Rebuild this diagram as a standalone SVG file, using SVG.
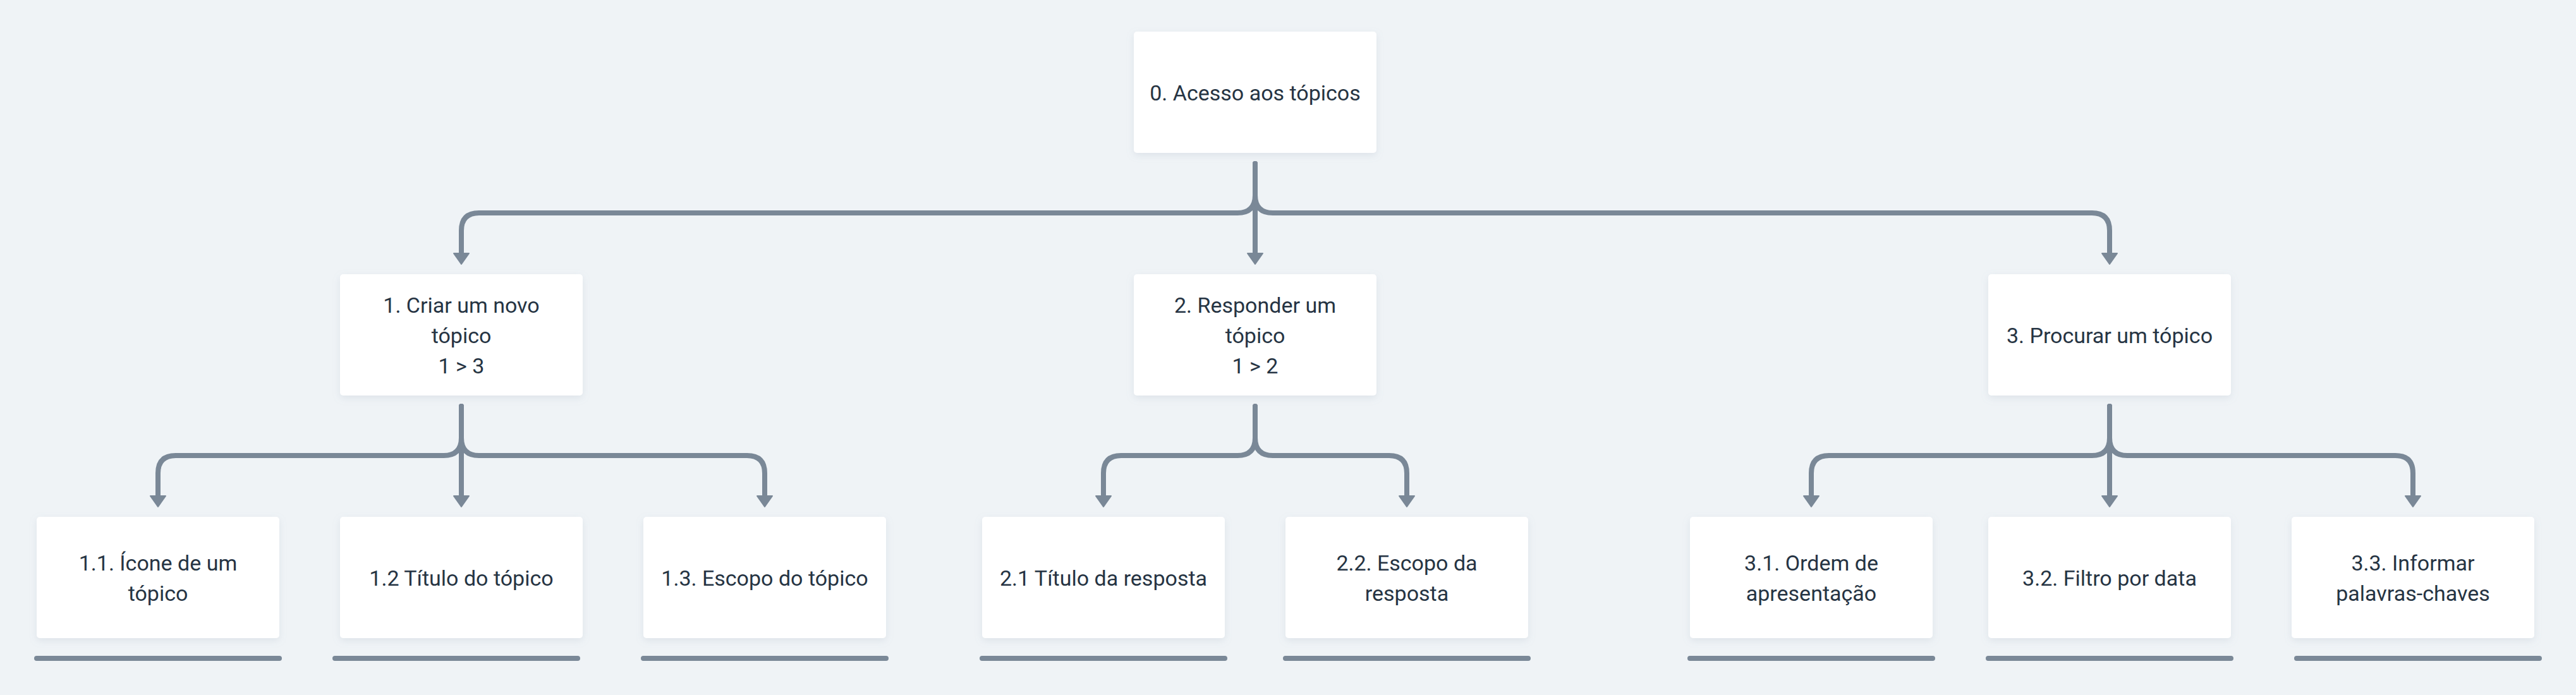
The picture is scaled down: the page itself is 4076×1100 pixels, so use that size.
<svg xmlns="http://www.w3.org/2000/svg" width="4076" height="1100" viewBox="0 0 4076 1100">
<style>
.bg{fill:#eff3f6}
.box{fill:#ffffff;filter:url(#sh)}
.t{font-family:Roboto,"Liberation Sans",sans-serif;font-size:34px;fill:#263443;text-anchor:middle}
.c{fill:none;stroke:#7a8897;stroke-width:8;stroke-linecap:round;stroke-linejoin:round;marker-end:url(#ah)}
.bar{fill:#7a8897}
</style>
<defs>
<filter id="sh" x="-10%" y="-10%" width="120%" height="130%">
<feDropShadow dx="0" dy="4" stdDeviation="6" flood-color="#8a9bb0" flood-opacity="0.18"/>
</filter>
<marker id="ah" markerUnits="userSpaceOnUse" orient="auto" refX="0" refY="0" markerWidth="30" markerHeight="30" overflow="visible">
<path d="M-8,-12 L9,0 L-8,12 Z" fill="#7a8897" stroke="#7a8897" stroke-width="2" stroke-linejoin="round"/>
</marker>
</defs>
<rect class="bg" x="0" y="0" width="4076" height="1100"/>

<g id="connectors">
<path class="c" d="M1986,259 V309 Q1986,337 1958,337 H758 Q730,337 730,365 V409"/>
<path class="c" d="M1986,259 V409"/>
<path class="c" d="M1986,259 V309 Q1986,337 2014,337 H3310 Q3338,337 3338,365 V409"/>

<path class="c" d="M730,643 V693 Q730,721 702,721 H278 Q250,721 250,749 V793"/>
<path class="c" d="M730,643 V793"/>
<path class="c" d="M730,643 V693 Q730,721 758,721 H1182 Q1210,721 1210,749 V793"/>

<path class="c" d="M1986,643 V693 Q1986,721 1958,721 H1774 Q1746,721 1746,749 V793"/>
<path class="c" d="M1986,643 V693 Q1986,721 2014,721 H2198 Q2226,721 2226,749 V793"/>

<path class="c" d="M3338,643 V693 Q3338,721 3310,721 H2894 Q2866,721 2866,749 V793"/>
<path class="c" d="M3338,643 V793"/>
<path class="c" d="M3338,643 V693 Q3338,721 3366,721 H3790 Q3818,721 3818,749 V793"/>
</g>

<g id="node-0">
<rect class="box" x="1794" y="50" width="384" height="192" rx="5"/>
<text class="t" x="1986" y="159">0. Acesso aos tópicos</text>
</g>

<g id="node-1">
<rect class="box" x="538" y="434" width="384" height="192" rx="5"/>
<text class="t" x="730" y="495">1. Criar um novo</text>
<text class="t" x="730" y="543">tópico</text>
<text class="t" x="730" y="591">1 &gt; 3</text>
</g>

<g id="node-2">
<rect class="box" x="1794" y="434" width="384" height="192" rx="5"/>
<text class="t" x="1986" y="495">2. Responder um</text>
<text class="t" x="1986" y="543">tópico</text>
<text class="t" x="1986" y="591">1 &gt; 2</text>
</g>

<g id="node-3">
<rect class="box" x="3146" y="434" width="384" height="192" rx="5"/>
<text class="t" x="3338" y="543">3. Procurar um tópico</text>
</g>

<g id="node-1-1">
<rect class="box" x="58" y="818" width="384" height="192" rx="5"/>
<text class="t" x="250" y="903">1.1. Ícone de um</text>
<text class="t" x="250" y="951">tópico</text>
</g>

<g id="node-1-2">
<rect class="box" x="538" y="818" width="384" height="192" rx="5"/>
<text class="t" x="730" y="927">1.2 Título do tópico</text>
</g>

<g id="node-1-3">
<rect class="box" x="1018" y="818" width="384" height="192" rx="5"/>
<text class="t" x="1210" y="927">1.3. Escopo do tópico</text>
</g>

<g id="node-2-1">
<rect class="box" x="1554" y="818" width="384" height="192" rx="5"/>
<text class="t" x="1746" y="927">2.1 Título da resposta</text>
</g>

<g id="node-2-2">
<rect class="box" x="2034" y="818" width="384" height="192" rx="5"/>
<text class="t" x="2226" y="903">2.2. Escopo da</text>
<text class="t" x="2226" y="951">resposta</text>
</g>

<g id="node-3-1">
<rect class="box" x="2674" y="818" width="384" height="192" rx="5"/>
<text class="t" x="2866" y="903">3.1. Ordem de</text>
<text class="t" x="2866" y="951">apresentação</text>
</g>

<g id="node-3-2">
<rect class="box" x="3146" y="818" width="384" height="192" rx="5"/>
<text class="t" x="3338" y="927">3.2. Filtro por data</text>
</g>

<g id="node-3-3">
<rect class="box" x="3626" y="818" width="384" height="192" rx="5"/>
<text class="t" x="3818" y="903">3.3. Informar</text>
<text class="t" x="3818" y="951">palavras-chaves</text>
</g>

<g id="bars">
<rect class="bar" x="54" y="1038" width="392" height="8" rx="4"/>
<rect class="bar" x="526" y="1038" width="392" height="8" rx="4"/>
<rect class="bar" x="1014" y="1038" width="392" height="8" rx="4"/>
<rect class="bar" x="1550" y="1038" width="392" height="8" rx="4"/>
<rect class="bar" x="2030" y="1038" width="392" height="8" rx="4"/>
<rect class="bar" x="2670" y="1038" width="392" height="8" rx="4"/>
<rect class="bar" x="3142" y="1038" width="392" height="8" rx="4"/>
<rect class="bar" x="3630" y="1038" width="392" height="8" rx="4"/>
</g>
</svg>
